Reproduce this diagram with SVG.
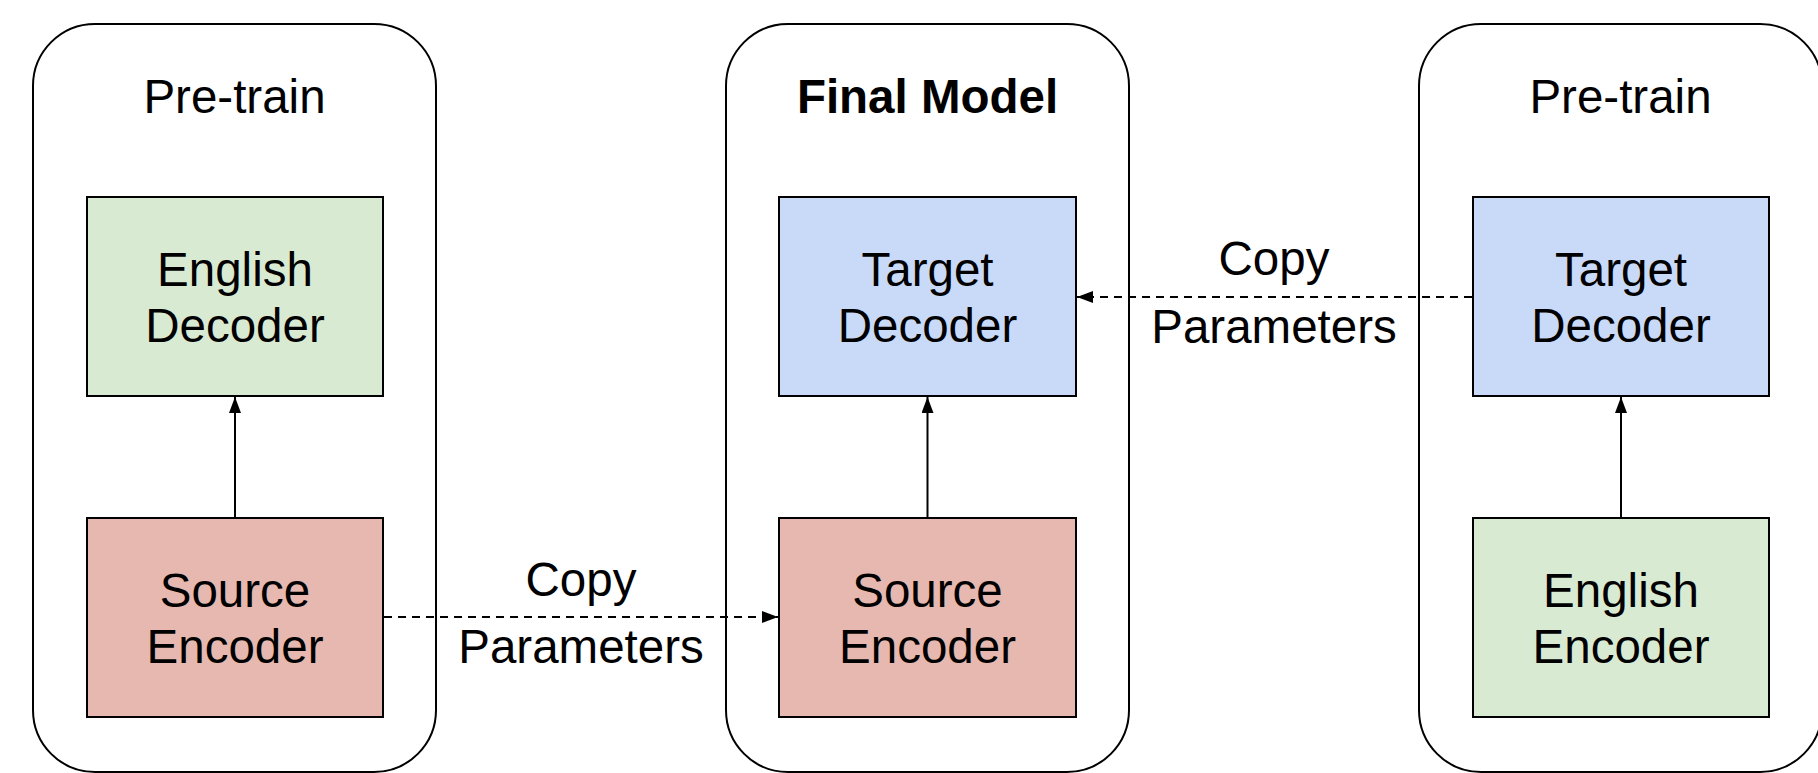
<svg xmlns="http://www.w3.org/2000/svg" width="1818" height="773" viewBox="0 0 1818 773">
  <defs>
    <style>
      .panel { fill: #ffffff; stroke: #000000; stroke-width: 2; }
      .box { stroke: #000000; stroke-width: 2; }
      .green { fill: #d9ead3; }
      .red { fill: #e6b8af; }
      .blue { fill: #c9daf8; }
      text { font-family: "Liberation Sans", Arial, sans-serif; font-size: 47.5px; fill: #000000; text-anchor: middle; }
      .title-bold { font-weight: bold; }
      .flow { stroke: #000000; stroke-width: 2; fill: none; }
      .copy { stroke: #000000; stroke-width: 2; fill: none; stroke-dasharray: 8 6; }
    </style>
    <marker id="head" markerUnits="userSpaceOnUse" markerWidth="16" markerHeight="12" refX="16" refY="6" orient="auto">
      <path d="M0,0 L16,6 L0,12 Z" fill="#000000"/>
    </marker>
  </defs>

  <rect width="1818" height="773" fill="#ffffff"/>

  <!-- panels -->
  <g id="panel-left">
    <rect class="panel" x="33" y="24" width="403" height="748" rx="62" ry="62"/>
    <text x="234.5" y="113">Pre-train</text>
  </g>
  <g id="panel-middle">
    <rect class="panel" x="726" y="24" width="403" height="748" rx="62" ry="62"/>
    <text class="title-bold" x="927.5" y="113">Final Model</text>
  </g>
  <g id="panel-right">
    <rect class="panel" x="1419" y="24" width="403" height="748" rx="62" ry="62"/>
    <text x="1620.5" y="113">Pre-train</text>
  </g>

  <!-- blocks -->
  <g id="english-decoder">
    <rect class="box green" x="87" y="197" width="296" height="199"/>
    <text x="235" y="286">English</text>
    <text x="235" y="342">Decoder</text>
  </g>
  <g id="source-encoder-left">
    <rect class="box red" x="87" y="518" width="296" height="199"/>
    <text x="235" y="607">Source</text>
    <text x="235" y="663">Encoder</text>
  </g>
  <g id="target-decoder-middle">
    <rect class="box blue" x="779" y="197" width="297" height="199"/>
    <text x="927.5" y="286">Target</text>
    <text x="927.5" y="342">Decoder</text>
  </g>
  <g id="source-encoder-middle">
    <rect class="box red" x="779" y="518" width="297" height="199"/>
    <text x="927.5" y="607">Source</text>
    <text x="927.5" y="663">Encoder</text>
  </g>
  <g id="target-decoder-right">
    <rect class="box blue" x="1473" y="197" width="296" height="199"/>
    <text x="1621" y="286">Target</text>
    <text x="1621" y="342">Decoder</text>
  </g>
  <g id="english-encoder">
    <rect class="box green" x="1473" y="518" width="296" height="199"/>
    <text x="1621" y="607">English</text>
    <text x="1621" y="663">Encoder</text>
  </g>

  <!-- connectors -->
  <g id="connectors">
    <line class="flow" x1="235" y1="518" x2="235" y2="397" marker-end="url(#head)"/>
    <line class="flow" x1="927.5" y1="518" x2="927.5" y2="397" marker-end="url(#head)"/>
    <line class="flow" x1="1621" y1="518" x2="1621" y2="397" marker-end="url(#head)"/>
    <line class="copy" x1="384" y1="617" x2="778" y2="617" marker-end="url(#head)"/>
    <line class="copy" x1="1472" y1="297" x2="1077" y2="297" marker-end="url(#head)"/>
    <text x="581" y="596">Copy</text>
    <text x="581" y="663">Parameters</text>
    <text x="1274" y="275">Copy</text>
    <text x="1274" y="343">Parameters</text>
  </g>
</svg>
